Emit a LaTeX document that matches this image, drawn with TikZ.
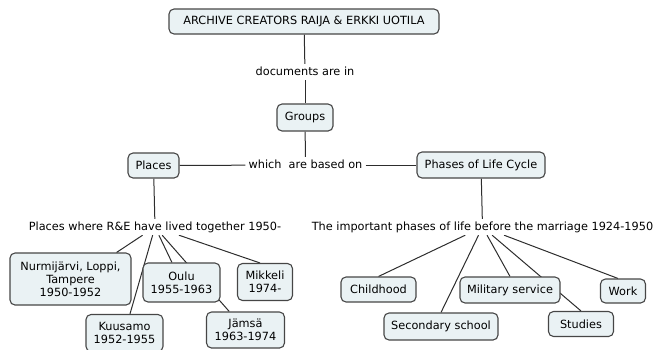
\documentclass[tikz,border=0pt]{standalone}
\usepackage{fontspec}
\setmainfont{DejaVu Sans}
\usepackage{tikz}
\usetikzlibrary{backgrounds}

\definecolor{conceptfill}{RGB}{234,242,244}
\definecolor{conceptline}{RGB}{70,70,70}
\definecolor{linkline}{RGB}{45,45,45}

\begin{document}
\begin{tikzpicture}[
        x=1pt, y=-1pt,
        font=\fontsize{11.3}{13}\selectfont,
        concept/.style={draw=conceptline, fill=conceptfill, rounded corners=5pt, line width=1.1pt, align=center, inner sep=0pt},
        linkword/.style={fill=white, inner xsep=3pt, inner ysep=2.5pt, text height=8.5pt, text depth=2.5pt},
        connector/.style={draw=linkline, line width=1pt}
    ]
        \useasboundingbox (0,0) rectangle (655,349);

        % Top of the map: archive creators -> groups
        \node[concept, minimum width=270pt, minimum height=25pt] (root) at (304,21.5) {ARCHIVE CREATORS RAIJA \& ERKKI UOTILA};
        \node[linkword] (docs) at (305,72) {documents are in};
        \node[concept, minimum width=56pt, minimum height=27pt] (groups) at (305,117.5) {Groups};

        % The two kinds of groups
        \node[linkword] (based) at (305.5,165) {which\ \ are based on};
        \node[concept, minimum width=51pt, minimum height=25pt] (places) at (153.5,165.5) {Places};
        \node[concept, minimum width=128pt, minimum height=26pt] (phases) at (481,165) {Phases of Life Cycle};

        % Linking phrases under each group
        \node[linkword] (placesnote) at (155,227) {Places where R\&E have lived together 1950-};
        \node[linkword] (phasesnote) at (482.5,227) {The important phases of life before the marriage 1924-1950};

        % Places
        \node[concept, minimum width=121pt, minimum height=52pt] (nurmi) at (70.5,279) {Nurmijärvi, Loppi,\\Tampere\\1950-1952};
        \node[concept, minimum width=77pt, minimum height=37pt] (kuusamo) at (124.5,333) {Kuusamo\\1952-1955};
        \node[concept, minimum width=77pt, minimum height=39pt] (oulu) at (181.5,282.5) {Oulu\\1955-1963};
        \node[concept, minimum width=78pt, minimum height=36pt] (jamsa) at (245.5,330) {Jämsä\\1963-1974};
        \node[concept, minimum width=55pt, minimum height=37pt] (mikkeli) at (265,282) {Mikkeli\\1974-};

        % Phases of life
        \node[concept, minimum width=75pt, minimum height=25pt] (childhood) at (378.5,289.5) {Childhood};
        \node[concept, minimum width=114pt, minimum height=27pt] (secondary) at (441,326.5) {Secondary school};
        \node[concept, minimum width=100pt, minimum height=26pt] (military) at (510,290) {Military service};
        \node[concept, minimum width=65pt, minimum height=25pt] (studies) at (581,324) {Studies};
        \node[concept, minimum width=45pt, minimum height=24pt] (work) at (623,291) {Work};

        % Connectors (behind the boxes, so some pass under them)
        \begin{scope}[on background layer]
            \draw[connector] (root) -- (docs);
            \draw[connector] (docs) -- (groups);
            \draw[connector] (groups) -- (based);
            \draw[connector] (places) -- (based);
            \draw[connector] (based) -- (phases);
            \draw[connector] (places) -- (placesnote);
            \draw[connector] (phases) -- (phasesnote);

            \draw[connector] (placesnote) -- ([xshift=-15pt]nurmi.north east);
            \draw[connector] (placesnote) -- (kuusamo);
            \draw[connector] (placesnote) -- (oulu);
            \draw[connector] (placesnote) -- (jamsa);
            \draw[connector] (placesnote) -- ([xshift=-5pt]mikkeli.north);

            \draw[connector] (phasesnote) -- (childhood.north);
            \draw[connector] (phasesnote) -- (secondary.north);
            \draw[connector] (phasesnote) -- (military.north);
            \draw[connector] (phasesnote) -- (studies.north);
            \draw[connector] (phasesnote) -- ([xshift=-5pt]work.north);
        \end{scope}
    \end{tikzpicture}
\end{document}
